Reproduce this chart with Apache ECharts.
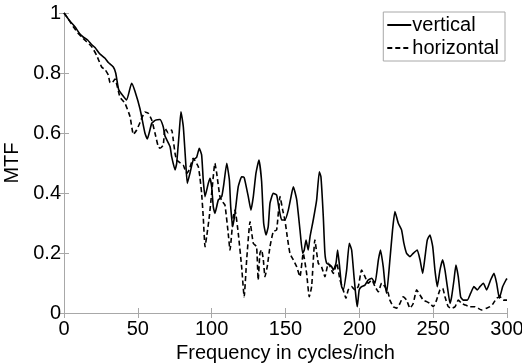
<!DOCTYPE html>
<html>
<head>
<meta charset="utf-8">
<script src="https://cdn.jsdelivr.net/npm/echarts@6/dist/echarts.min.js"></script>
<style>html,body{margin:0;padding:0;background:#fff}#c{width:522px;height:364px}</style>
</head>
<body>
<div id="c"></div>
<script>
var xTicks = [0, 50, 100, 150, 200, 250, 300];
var yTicks = [0, 0.2, 0.4, 0.6, 0.8, 1];

var vFreq = [0,4,7.4,10.8,13,16,18.7,21,24,27.8,30,33.4,35,37,39,42.4,45.8,48,51.5,54.8,56.4,59.4,62,65,67.2,68.4,71.8,72.9,75.2,76.3,78,79.2,80.8,82.6,83.5,85.3,87.5,89.8,91.6,93.2,94.3,95.5,97.7,98.9,100,101.1,102.2,104.5,106.8,108.3,110.2,112,112.9,114.2,115.8,118,120.3,122,124.8,126.6,128.2,130,132,133.8,135.2,136.8,138.3,139.5,141.7,144,145.8,147.4,149.6,151.9,154.2,155.3,157.6,159.8,161.6,162.7,163.9,165.4,166.6,168.8,171.1,172.9,174,175.6,176.7,177.9,180.1,181.3,182.4,184.2,185.3,186.4,188,189.1,191.4,193.2,194.8,196.4,197.7,198.6,199.9,201.5,203.8,206,208.4,210.6,212.9,214.3,216.2,217.3,218.5,220.7,222.5,224.1,226.4,228.6,230.2,232,234.3,236.5,239.2,241.1,242.9,244.5,246,247.8,249.7,251.2,252.8,254.6,256.4,258,259.6,261.4,262.5,264.1,265.4,267,268.6,270.4,273.1,275.4,277.6,279.9,281.7,284,286.2,288.9,291.2,293,294.8,297.1,299.3,300];
var vMTF = [1.0,0.973,0.954,0.93,0.92,0.91,0.895,0.885,0.865,0.849,0.835,0.82,0.8,0.745,0.73,0.71,0.766,0.74,0.68,0.6,0.58,0.632,0.643,0.645,0.621,0.59,0.555,0.521,0.477,0.499,0.6,0.671,0.621,0.488,0.432,0.466,0.51,0.519,0.549,0.527,0.443,0.388,0.432,0.449,0.421,0.354,0.332,0.377,0.388,0.432,0.499,0.443,0.354,0.288,0.332,0.421,0.454,0.452,0.388,0.343,0.388,0.466,0.51,0.44,0.3,0.26,0.288,0.366,0.399,0.393,0.343,0.31,0.31,0.343,0.399,0.421,0.377,0.277,0.199,0.21,0.243,0.21,0.254,0.31,0.377,0.471,0.454,0.321,0.199,0.166,0.16,0.154,0.143,0.166,0.21,0.166,0.088,0.077,0.143,0.232,0.21,0.121,0.054,0.021,0.077,0.088,0.093,0.11,0.116,0.099,0.177,0.21,0.154,0.099,0.066,0.177,0.277,0.338,0.299,0.277,0.232,0.199,0.188,0.199,0.21,0.177,0.132,0.188,0.243,0.26,0.221,0.143,0.088,0.143,0.177,0.143,0.088,0.032,0.054,0.11,0.16,0.121,0.054,0.043,0.043,0.066,0.088,0.077,0.088,0.099,0.077,0.11,0.132,0.099,0.049,0.088,0.11,0.115];

var hFreq = [0,2.9,6.3,10,14,18.7,22,25.5,28,30,31,32.3,34.5,37.9,41.3,44.7,47,49.2,51.5,54.8,57,59.4,61.6,63.8,65,67.2,68.4,70.6,72.9,74,75.2,76.3,78.5,80.8,83,84.8,87.5,90.9,92,93.2,94.3,95.5,96.6,98.4,100,102.2,103.4,105.6,107.5,109,111.2,112.4,114.6,115.8,118,120.3,122,123.7,126,128.2,130.4,131.5,132.7,133.8,135,136.1,137.6,139.5,141.7,144,146.3,148.1,149.6,151.2,153,155.3,157.6,159.8,162,164.3,166.1,167.7,169.9,172.2,174.4,176.7,179,182.4,184.7,186.9,189.1,190.9,192.5,194.8,197,199.3,201.5,203.8,206,208.4,210.6,212.9,215.1,217.3,219.6,220.7,223,225.2,227.5,229.7,232,234.3,236.5,238.8,241.1,243.3,245.6,247.8,250.1,252.3,254.6,256.4,258,260.2,262.5,264.8,267,269.3,271.5,274.9,278.3,282.8,286.2,288.5,290.7,293,295.3,297.5,300];
var hMTF = [1.0,0.98,0.954,0.93,0.91,0.888,0.86,0.82,0.81,0.793,0.77,0.766,0.78,0.72,0.699,0.655,0.595,0.61,0.635,0.67,0.666,0.643,0.6,0.555,0.549,0.56,0.616,0.6,0.61,0.577,0.532,0.51,0.501,0.493,0.466,0.477,0.516,0.488,0.454,0.399,0.32,0.221,0.254,0.321,0.399,0.499,0.466,0.388,0.37,0.36,0.266,0.21,0.321,0.343,0.266,0.154,0.054,0.177,0.304,0.232,0.221,0.11,0.2,0.21,0.177,0.121,0.154,0.221,0.271,0.277,0.388,0.343,0.31,0.254,0.199,0.177,0.154,0.121,0.199,0.132,0.054,0.088,0.243,0.166,0.154,0.121,0.166,0.132,0.166,0.11,0.077,0.049,0.077,0.088,0.077,0.088,0.143,0.121,0.099,0.11,0.088,0.071,0.1,0.088,0.066,0.043,0.021,0.016,0.032,0.054,0.043,0.016,0.032,0.077,0.06,0.043,0.038,0.032,0.021,0.043,0.077,0.082,0.054,0.021,0.016,0.021,0.043,0.032,0.027,0.021,0.021,0.01,0.016,0.021,0.032,0.049,0.054,0.043,0.043];

var seriesNames = ['vertical', 'horizontal'];

function pairs(xs, ys) { return xs.map(function (x, i) { return [x, ys[i]]; }); }

var FONT = 'Liberation Sans';
var FS = 20;
var AX = '#a8a8a8';
var chart = echarts.init(document.getElementById('c'), null, { renderer: 'canvas' });

function xAx(pos, labels) {
  return {
    type: 'value', position: pos, min: xTicks[0], max: xTicks[xTicks.length - 1], interval: 50,
    axisLine: { show: true, lineStyle: { color: AX, width: 1 } },
    axisTick: { show: true, inside: true, length: 5, lineStyle: { color: AX } },
    axisLabel: { show: labels, color: '#000', fontFamily: FONT, fontSize: FS, margin: 6 },
    splitLine: { show: false },
    name: labels ? 'Frequency in cycles/inch' : '',
    nameLocation: 'middle', nameGap: 28,
    nameTextStyle: { color: '#000', fontFamily: FONT, fontSize: FS }
  };
}
function yAx(pos, labels) {
  return {
    type: 'value', position: pos, min: yTicks[0], max: yTicks[yTicks.length - 1], interval: 0.2,
    axisLine: { show: true, lineStyle: { color: AX, width: 1 } },
    axisTick: { show: true, inside: true, length: 5, lineStyle: { color: AX } },
    axisLabel: { show: labels, color: '#000', fontFamily: FONT, fontSize: FS, margin: 3 },
    splitLine: { show: false },
    name: labels ? 'MTF' : '',
    nameLocation: 'middle', nameGap: 38,
    nameTextStyle: { color: '#000', fontFamily: FONT, fontSize: FS }
  };
}

chart.setOption({
  animation: false,
  backgroundColor: '#fff',
  grid: { left: 64, right: 15, top: 13, bottom: 51, containLabel: false, outerBoundsMode: 'none' },
  xAxis: [xAx('bottom', true), xAx('top', false)],
  yAxis: [yAx('left', true), yAx('right', false)],
  legend: {
    data: seriesNames,
    orient: 'vertical',
    right: 17, top: 12,
    backgroundColor: '#fff',
    borderColor: AX, borderWidth: 1,
    borderRadius: 0,
    padding: [3, 6, 3, 3],
    itemGap: 3,
    itemWidth: 24, itemHeight: 18,
    itemStyle: { opacity: 0 },
    textStyle: { color: '#000', fontFamily: FONT, fontSize: FS, padding: [0, 0, 0, -4] }
  },
  series: [
    {
      name: seriesNames[0], type: 'line', xAxisIndex: 0, yAxisIndex: 0,
      data: pairs(vFreq, vMTF), symbol: 'none', smooth: 0.15,
      lineStyle: { color: '#000', width: 1.6, type: 'solid' },
      itemStyle: { color: '#000' }
    },
    {
      name: seriesNames[1], type: 'line', xAxisIndex: 0, yAxisIndex: 0,
      data: pairs(hFreq, hMTF), symbol: 'none', smooth: 0.15,
      lineStyle: { color: '#000', width: 1.6, type: [5, 3] },
      itemStyle: { color: '#000' }
    }
  ]
});
</script>
</body>
</html>
